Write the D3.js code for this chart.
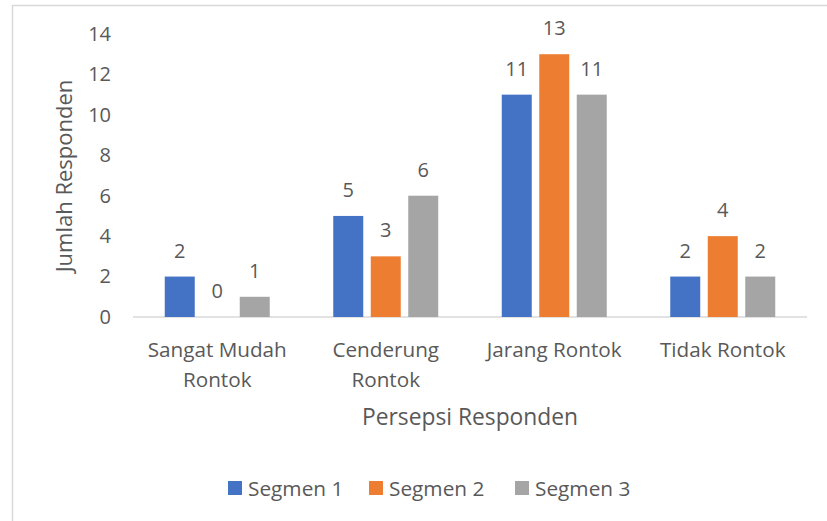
<!DOCTYPE html>
<html>
<head>
<meta charset="utf-8">
<script src="https://cdn.jsdelivr.net/npm/d3@7"></script>
<style>
  body { margin: 0; background: #fff; }
  text { font-family: "Open Sans", sans-serif; fill: #595959; }
</style>
</head>
<body>
<div id="chart"></div>
<script>
// Data
var categories = [["Sangat Mudah", "Rontok"], ["Cenderung", "Rontok"], ["Jarang Rontok"], ["Tidak Rontok"]];
var seriesNames = ["Segmen 1", "Segmen 2", "Segmen 3"];
var segmen1 = [2, 5, 11, 2];
var segmen2 = [0, 3, 13, 4];
var segmen3 = [1, 6, 11, 2];
var yTicks = [0, 2, 4, 6, 8, 10, 12, 14];

var colors = ["#4472C4", "#ED7D31", "#A5A5A5"];
var series = [segmen1, segmen2, segmen3];

var W = 827, H = 521;
var groupW = 105;

var svg = d3.select("#chart").append("svg")
	.attr("width", W)
	.attr("height", H);

// Outer frame
svg.append("rect")
	.attr("x", 12.5).attr("y", 5.5)
	.attr("width", W).attr("height", H)
	.attr("fill", "none")
	.attr("stroke", "#d9d9d9")
	.attr("stroke-width", 1.5);

var x0 = d3.scaleBand()
	.domain(d3.range(categories.length))
	.range([133, 807]);

var x1 = d3.scaleBand()
	.domain(d3.range(series.length))
	.range([0, groupW])
	.paddingInner(0.2)
	.paddingOuter(0);

var y = d3.scaleLinear()
	.domain([0, 14])
	.range([317, 34]);

// Baseline
svg.append("line")
	.attr("x1", 133).attr("x2", 807)
	.attr("y1", y(0)).attr("y2", y(0))
	.attr("stroke", "#d9d9d9")
	.attr("stroke-width", 1.5);

// Y axis ticks
var yAxis = d3.axisLeft(y).tickValues(yTicks).tickSize(0).tickPadding(0);
var gy = svg.append("g")
	.attr("transform", "translate(111,0)")
	.call(yAxis);
gy.select(".domain").remove();
gy.selectAll("text")
	.attr("font-size", "20px")
	.style("font-family", "'Open Sans', sans-serif")
	.attr("fill", "#595959");

// Bars
var groups = svg.selectAll(".grp")
	.data(categories)
	.enter().append("g")
	.attr("class", "grp")
	.attr("transform", function(d, i){ return "translate(" + (x0(i) + (x0.bandwidth() - groupW) / 2) + ",0)"; });

groups.each(function(d, ci){
	var g = d3.select(this);
	series.forEach(function(s, si){
		g.append("rect")
			.attr("x", x1(si))
			.attr("y", y(s[ci]))
			.attr("width", x1.bandwidth())
			.attr("height", y(0) - y(s[ci]))
			.attr("fill", colors[si]);
		g.append("text")
			.attr("x", x1(si) + x1.bandwidth() / 2)
			.attr("y", y(s[ci]) - 19)
			.attr("text-anchor", "middle")
			.attr("font-size", "20px")
			.text(s[ci]);
	});
});

// Category labels
categories.forEach(function(lines, i){
	var t = svg.append("text")
		.attr("x", x0(i) + x0.bandwidth() / 2)
		.attr("y", 357)
		.attr("text-anchor", "middle")
		.attr("font-size", "20.7px");
	lines.forEach(function(l, li){
		t.append("tspan")
			.attr("x", x0(i) + x0.bandwidth() / 2)
			.attr("dy", li == 0 ? 0 : 30)
			.text(l);
	});
});

// Axis titles
svg.append("text")
	.attr("x", 470)
	.attr("y", 425)
	.attr("text-anchor", "middle")
	.attr("font-size", "22.8px")
	.text("Persepsi Responden");

svg.append("text")
	.attr("transform", "translate(72,176) rotate(-90)")
	.attr("text-anchor", "middle")
	.attr("font-size", "22px")
	.text("Jumlah Responden");

// Legend
var legendX = [228, 369, 515];
var legend = svg.selectAll(".leg")
	.data(seriesNames)
	.enter().append("g")
	.attr("class", "leg")
	.attr("transform", function(d, i){ return "translate(" + legendX[i] + ",481)"; });
legend.append("rect")
	.attr("width", 14).attr("height", 14)
	.attr("fill", function(d, i){ return colors[i]; });
legend.append("text")
	.attr("x", 20)
	.attr("y", 14.5)
	.attr("font-size", "20.8px")
	.text(function(d){ return d; });
</script>
</body>
</html>
